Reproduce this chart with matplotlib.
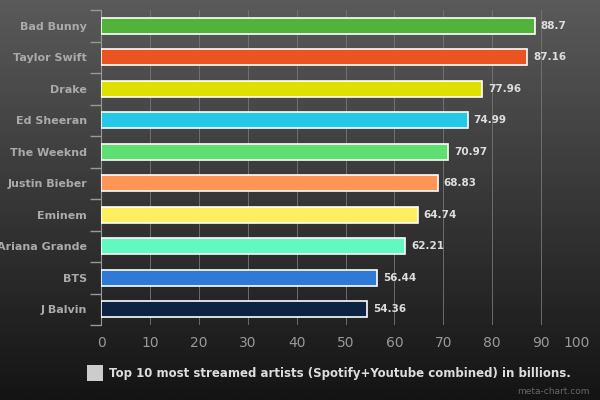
import numpy as np
import matplotlib
matplotlib.use("Agg")
import matplotlib.pyplot as plt
from matplotlib.colors import LinearSegmentedColormap

artists = ["Bad Bunny", "Taylor Swift", "Drake", "Ed Sheeran", "The Weeknd",
           "Justin Bieber", "Eminem", "Ariana Grande", "BTS", "J Balvin"]
streams = [88.7, 87.16, 77.96, 74.99, 70.97, 68.83, 64.74, 62.21, 56.44, 54.36]
value_labels = ["88.7", "87.16", "77.96", "74.99", "70.97",
                "68.83", "64.74", "62.21", "56.44", "54.36"]
bar_colors = ["#52b33a", "#ea5420", "#e0e000", "#22c8e6", "#5ee070",
              "#ff9455", "#ffee60", "#62f8c2", "#2f7ad8", "#0c2442"]
xticks = [0, 10, 20, 30, 40, 50, 60, 70, 80, 90, 100]
legend_text = "Top 10 most streamed artists (Spotify+Youtube combined) in billions."

fig = plt.figure(figsize=(6, 4), dpi=100)

# background gradient
bg = fig.add_axes([0, 0, 1, 1], zorder=0)
grad = np.linspace(0, 1, 256).reshape(-1, 1)
cmap = LinearSegmentedColormap.from_list("bg", ["#5a5a5a", "#141414"])
bg.imshow(grad, aspect="auto", cmap=cmap, extent=[0, 1, 0, 1])
bg.axis("off")

ax = fig.add_axes([101 / 600, 1 - 325 / 400, 489 / 600, 315 / 400], zorder=1)
ax.patch.set_alpha(0)

y = np.arange(len(artists))
ax.barh(y, streams, height=0.52, color=bar_colors, edgecolor="white",
        linewidth=1.2, zorder=3)
for yi, v, lab in zip(y, streams, value_labels):
    ax.text(v + 1.2, yi, lab, color="#dddddd", fontsize=7.5, fontweight="bold",
            va="center", ha="left", zorder=4)

ax.set_xlim(0, 100)
ax.set_ylim(len(artists) - 0.5, -0.5)
ax.set_xticks(xticks)
ax.set_xticklabels([str(t) for t in xticks], color="#999999", fontsize=10)
ax.tick_params(axis="x", length=0, pad=8)
ax.get_xticklabels()[-1].set_horizontalalignment("right")

ax.set_yticks(y)
ax.set_yticklabels(artists, color="#aaaaaa", fontsize=8, fontweight="bold")
ax.tick_params(axis="y", which="major", length=0, pad=10)
ax.set_yticks(np.arange(-0.5, len(artists)), minor=True)
ax.tick_params(axis="y", which="minor", length=8, color="#999999", width=1)

ax.grid(axis="x", color="#777777", linewidth=0.6, zorder=0)
for s in ["top", "right", "bottom"]:
    ax.spines[s].set_visible(False)
ax.spines["left"].set_color("#999999")

# legend
fig.patches.append(plt.Rectangle((87 / 600, 1 - 381 / 400), 16 / 600, 16 / 400,
                                 transform=fig.transFigure, facecolor="#cccccc",
                                 edgecolor="none", zorder=2))
fig.text(109 / 600, 1 - 373 / 400, legend_text, color="#dddddd", fontsize=8.5,
         fontweight="bold", va="center", ha="left")
fig.text(590 / 600, 1 - 391 / 400, "meta-chart.com", color="#666666",
         fontsize=6.5, va="center", ha="right")

fig.savefig("out.png", dpi=100)
